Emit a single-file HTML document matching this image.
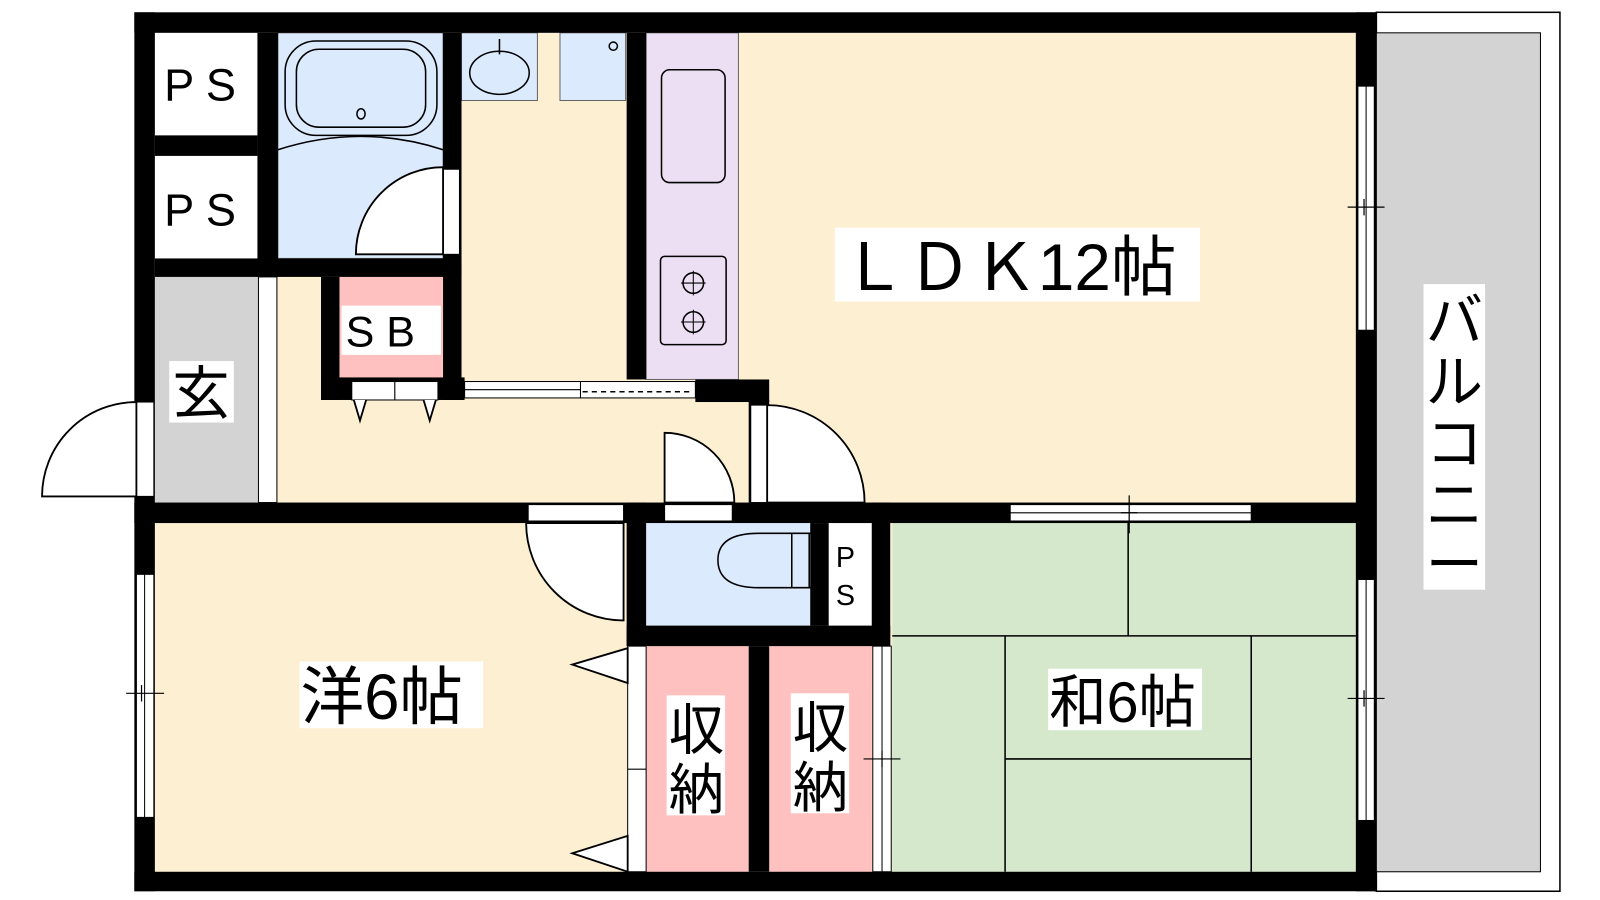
<!DOCTYPE html>
<html><head><meta charset="utf-8"><style>
html,body{margin:0;padding:0;background:#fff;}
svg{display:block}
text{font-family:"Liberation Sans","Noto Sans CJK JP",sans-serif;fill:#000}
</style></head><body>
<svg width="1600" height="900" viewBox="0 0 1600 900" xmlns="http://www.w3.org/2000/svg">
<g transform="scale(1.0256)">
<!-- balcony -->
<rect x="1342" y="12" width="179" height="857" fill="#fff" stroke="#000" stroke-width="1.5"/>
<rect x="1342" y="32" width="160" height="818" fill="#d3d3d3" stroke="#000" stroke-width="1"/>
<!-- floors -->
<rect x="151" y="32" width="1172" height="818" fill="#fdf0d2"/>
<rect x="151" y="32" width="100" height="100" fill="#fff"/>
<rect x="151" y="152" width="100" height="100" fill="#fff"/>
<rect x="271" y="32" width="161" height="220" fill="#dbeafc" stroke="#666" stroke-width="1"/>
<rect x="450" y="32" width="74" height="66" fill="#dbeafc" stroke="#666" stroke-width="1"/>
<rect x="546" y="32" width="64" height="66" fill="#dbeafc" stroke="#666" stroke-width="1"/>
<rect x="630" y="32" width="90" height="338" fill="#ecdff3" stroke="#666" stroke-width="1"/>
<rect x="331" y="270" width="101" height="98" fill="#ffc0c0"/>
<rect x="151" y="270" width="101" height="220" fill="#d3d3d3"/>
<rect x="252" y="270" width="18" height="220" fill="#fff" stroke="#000" stroke-width="1"/>
<rect x="630" y="510" width="160" height="100" fill="#dbeafc"/>
<rect x="808" y="510" width="42" height="100" fill="#fff"/>
<rect x="630" y="630" width="100" height="220" fill="#ffc0c0"/>
<rect x="750" y="630" width="100" height="220" fill="#ffc0c0"/>
<rect x="870" y="510" width="452" height="340" fill="#d5e8cc"/>
<!-- tatami lines -->
<g stroke="#000" stroke-width="1.5">
<line x1="1100" y1="510" x2="1100" y2="620"/>
<line x1="870" y1="620" x2="1322" y2="620"/>
<line x1="980" y1="620" x2="980" y2="850"/>
<line x1="1220" y1="620" x2="1220" y2="850"/>
<line x1="980" y1="740" x2="1220" y2="740"/>
</g>
<!-- walls -->
<g fill="#000">
<rect x="131" y="12" width="1211" height="20"/>
<rect x="131" y="850" width="1211" height="19"/>
<rect x="131" y="12" width="20" height="857"/>
<rect x="1322" y="12" width="20" height="857"/>
<rect x="251" y="32" width="20" height="238"/>
<rect x="151" y="132" width="100" height="20"/>
<rect x="151" y="252" width="299" height="18"/>
<rect x="432" y="32" width="18" height="358"/>
<rect x="611" y="32" width="19" height="338"/>
<rect x="313" y="270" width="18" height="120"/>
<rect x="313" y="368" width="140" height="22"/>
<rect x="678" y="370" width="72" height="22"/>
<rect x="730" y="390" width="20" height="100"/>
<rect x="131" y="490" width="1211" height="20"/>
<rect x="611" y="490" width="19" height="140"/>
<rect x="790" y="510" width="18" height="100"/>
<rect x="850" y="490" width="18" height="140"/>
<rect x="611" y="610" width="257" height="20"/>
<rect x="730" y="630" width="20" height="220"/>
</g>
<!-- openings (white) -->
<g fill="#fff" stroke="#000" stroke-width="1">
<rect x="133" y="392" width="17" height="92"/>
<rect x="133" y="560" width="17" height="237"/>
<rect x="1324" y="84" width="16" height="238"/>
<rect x="1324" y="565" width="16" height="235"/>
<rect x="432" y="165" width="16" height="83"/>
<rect x="732" y="395" width="16" height="95"/>
<rect x="515" y="492" width="93" height="16"/>
<rect x="648" y="492" width="66" height="16"/>
<rect x="985" y="492" width="235" height="16"/>
<rect x="453" y="372" width="113" height="8"/>
<rect x="453" y="380" width="113" height="8"/>
<rect x="566" y="372" width="112" height="16"/>
<rect x="343" y="372" width="42" height="18"/>
<rect x="385" y="372" width="42" height="18"/>
<rect x="612" y="630" width="18" height="220"/>
<rect x="851" y="630" width="18" height="220"/>
</g>
<line x1="568" y1="382" x2="676" y2="382" stroke="#000" stroke-width="1.5" stroke-dasharray="5,4"/>
<line x1="612" y1="750" x2="630" y2="750" stroke="#000"/>
<line x1="860" y1="630" x2="860" y2="850" stroke="#000"/>
<line x1="141" y1="560" x2="141" y2="797" stroke="#000"/>
<line x1="1332" y1="84" x2="1332" y2="322" stroke="#000"/>
<line x1="1332" y1="565" x2="1332" y2="800" stroke="#000"/>
<line x1="985" y1="500" x2="1220" y2="500" stroke="#000"/>
<!-- window tick marks -->
<g stroke="#000" stroke-width="1.2">
<line x1="123" y1="676" x2="160" y2="676"/><line x1="138" y1="668" x2="138" y2="684"/>
<line x1="1314" y1="202" x2="1350" y2="202"/><line x1="1330" y1="194" x2="1330" y2="210"/>
<line x1="1314" y1="681" x2="1350" y2="681"/><line x1="1330" y1="673" x2="1330" y2="689"/>
<line x1="1101" y1="483" x2="1101" y2="520"/><line x1="1093" y1="500" x2="1109" y2="500"/>
<line x1="842" y1="740" x2="878" y2="740"/><line x1="860" y1="732" x2="860" y2="748"/>
</g>
<!-- door swings -->
<g fill="#fff" stroke="#000" stroke-width="1.8">
<path d="M133 392 A92 92 0 0 0 41 484 L133 484 Z"/>
<path d="M432 163 A85 85 0 0 0 347 248 L432 248 Z"/>
<path d="M748 395 A95 95 0 0 1 843 490 L748 490 Z"/>
<path d="M648 422 A68 68 0 0 1 716 490 L648 490 Z"/>
<path d="M513 510 A95 95 0 0 0 608 605 L608 510 Z"/>
<path d="M612 632 L558 648 L612 666 Z"/>
<path d="M612 815 L558 832 L612 850 Z"/>
<path d="M345 390 L351 410 L357 390"/>
<path d="M413 390 L419 410 L425 390"/>
</g>
<!-- fixtures -->
<g fill="none" stroke="#000" stroke-width="1.5">
<rect x="278" y="40" width="148" height="92" rx="30"/>
<rect x="289" y="48" width="126" height="76" rx="22"/>
<ellipse cx="352" cy="111" rx="4" ry="5"/>
<path d="M271 146 Q352 120 432 146"/>
<ellipse cx="487" cy="71" rx="29" ry="21"/>
<line x1="487" y1="38" x2="487" y2="53"/>
<circle cx="598" cy="45" r="4"/>
<rect x="645" y="68" width="62" height="110" rx="8"/>
<rect x="644" y="250" width="64" height="86" rx="4"/>
<circle cx="676" cy="276" r="10"/><circle cx="676" cy="314" r="10"/>
<path d="M792 573 L740 573 Q700 573 700 546 Q700 520 740 520 L792 520"/>
<line x1="772" y1="520" x2="772" y2="573"/>
<line x1="789" y1="520" x2="789" y2="573"/>
</g>
<g stroke="#000" stroke-width="1"><line x1="664" y1="276" x2="688" y2="276"/><line x1="676" y1="264" x2="676" y2="288"/><line x1="664" y1="314" x2="688" y2="314"/><line x1="676" y1="302" x2="676" y2="326"/></g>
<!-- labels -->
<g fill="#fff">
<rect x="814" y="222" width="356" height="72"/>
<rect x="292" y="645" width="179" height="65"/>
<rect x="1022" y="652" width="150" height="60"/>
<rect x="1388" y="277" width="60" height="298"/>
<rect x="165" y="352" width="63" height="60"/>
<rect x="650" y="678" width="57" height="117"/>
<rect x="771" y="676" width="57" height="117"/>
<rect x="333" y="298" width="97" height="48"/>
</g>
<text x="160" y="98" font-size="44">P S</text>
<text x="160" y="220" font-size="44">P S</text>
<text x="337" y="338" font-size="42">S B</text>
<text x="168" y="403" font-size="56">玄</text>
<text x="820" y="283" font-size="64">ＬＤＫ12帖</text>
<text x="293" y="701" font-size="62">洋6帖</text>
<text x="1023" y="704" font-size="56">和6帖</text>
<text x="652" y="731" font-size="54">収</text>
<text x="652" y="789" font-size="54">納</text>
<text x="773" y="729" font-size="54">収</text>
<text x="773" y="787" font-size="54">納</text>
<text x="815" y="553" font-size="28">P</text>
<text x="815" y="590" font-size="28">S</text>
<g font-size="56"><text x="1390" y="332">バ</text><text x="1390" y="392">ル</text><text x="1390" y="452">コ</text><text x="1390" y="512">ニ</text><text x="1390" y="570">ー</text></g>
</g>
</svg>
</body></html>
